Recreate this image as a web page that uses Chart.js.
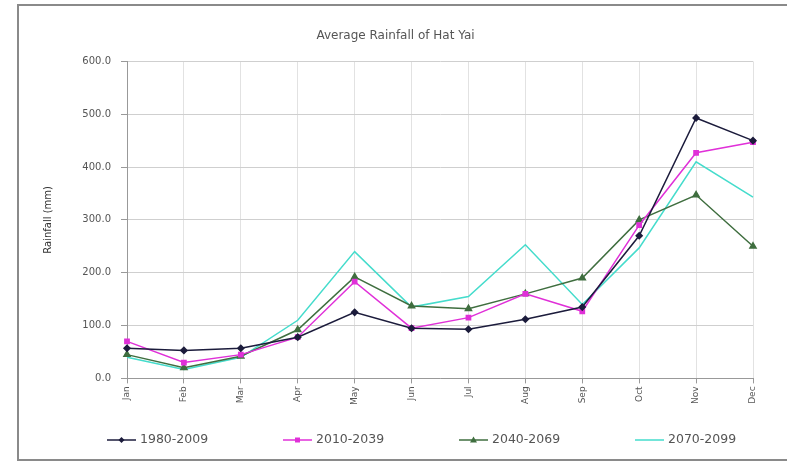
<!DOCTYPE html>
<html>
<head>
<meta charset="utf-8">
<script src="https://cdn.jsdelivr.net/npm/chart.js@4"></script>
<style>
  html, body { margin: 0; padding: 0; background: #fff; overflow: hidden; }
  #wrap { position: relative; width: 787px; height: 462px; overflow: hidden; }
  #frame { position: absolute; left: 17px; top: 4px; width: 800px; height: 457px; border: 1px solid #8a8a8a; border-width: 2px 0 2px 2px; box-sizing: border-box; pointer-events: none; }
</style>
</head>
<body>
<div id="wrap">
  <canvas id="rain" width="787" height="462"></canvas>
  <div id="frame"></div>
</div>
<script>
const months = ['Jan', 'Feb', 'Mar', 'Apr', 'May', 'Jun', 'Jul', 'Aug', 'Sep', 'Oct', 'Nov', 'Dec'];
const base1980 = [57, 53, 57, 78, 125, 95, 93, 112, 135, 270, 493, 450];
const proj2010 = [70, 30, 45, 78, 183, 95, 115, 160, 127, 290, 427, 447];
const proj2040 = [45, 20, 42, 92, 192, 137, 132, 160, 190, 300, 347, 250];
const proj2070 = [40, 17, 40, 110, 240, 135, 155, 253, 140, 247, 410, 343];

const txt = '#555';
const font = "'DejaVu Sans', sans-serif";

const series = [
  { label: '1980-2009', data: base1980, color: '#1c1c3c', shape: 'rectRot', r: 3 },
  { label: '2010-2039', data: proj2010, color: '#e030d8', shape: 'rect', r: 3 },
  { label: '2040-2069', data: proj2040, color: '#3f6e3f', shape: 'triangle', r: 3.5 },
  { label: '2070-2099', data: proj2070, color: '#45dccc', shape: 'none', r: 0 }
];

// Excel-like legend: spread wide across the bottom, line with marker in it
const wideLegend = {
  id: 'wideLegend',
  afterDraw(ch) {
    const g = ch.ctx;
    const y = 440, step = 176;
    let x = ch.chartArea.left - 20;
    g.save();
    g.font = '12.5px ' + font;
    g.textBaseline = 'middle';
    series.forEach(s => {
      g.strokeStyle = s.color; g.fillStyle = s.color; g.lineWidth = 1.5;
      g.beginPath(); g.moveTo(x, y); g.lineTo(x + 29, y); g.stroke();
      const cx = x + 14.5;
      g.beginPath();
      if (s.shape === 'rectRot') { g.moveTo(cx, y - 3); g.lineTo(cx + 3, y); g.lineTo(cx, y + 3); g.lineTo(cx - 3, y); }
      else if (s.shape === 'rect') { g.rect(cx - 2.5, y - 2.5, 5, 5); }
      else if (s.shape === 'triangle') { g.moveTo(cx, y - 3.5); g.lineTo(cx + 3.5, y + 2.5); g.lineTo(cx - 3.5, y + 2.5); }
      g.closePath(); g.fill();
      g.fillStyle = txt;
      g.fillText(s.label, x + 33, y);
      x += step;
    });
    g.restore();
  }
};

const chart = new Chart(document.getElementById('rain'), {
  type: 'line',
  data: {
    labels: months,
    datasets: series.map(s => ({
      label: s.label,
      data: s.data,
      borderColor: s.color,
      backgroundColor: s.color,
      borderWidth: 1.5,
      pointStyle: s.shape === 'none' ? false : s.shape,
      pointRadius: s.r,
      tension: 0
    }))
  },
  options: {
    responsive: false,
    animation: false,
    layout: { padding: { left: 38, right: 34, top: 29, bottom: 54 } },
    plugins: {
      title: {
        display: true,
        text: 'Average Rainfall of Hat Yai',
        color: txt,
        font: { family: font, size: 12, weight: 'normal' },
        padding: { top: 0, bottom: 18 }
      },
      legend: { display: false },
      tooltip: { enabled: false }
    },
    scales: {
      x: {
        offset: false,
        grid: { color: '#e2e2e2', tickColor: '#999', tickLength: 5 },
        border: { color: '#999' },
        ticks: { color: txt, font: { family: font, size: 9 }, minRotation: 90, maxRotation: 90, padding: 3 }
      },
      y: {
        min: 0,
        max: 600,
        grid: { color: '#cfcfcf', tickColor: '#999', tickLength: 6 },
        border: { color: '#999' },
        ticks: { stepSize: 100, color: txt, font: { family: font, size: 10 }, padding: 10, callback: v => v.toFixed(1) },
        title: { display: true, text: 'Rainfall (mm)', color: '#333', font: { family: font, size: 10 } },
        afterFit: s => { s.width = 89; }
      }
    }
  },
  plugins: [wideLegend]
});
</script>
</body>
</html>
